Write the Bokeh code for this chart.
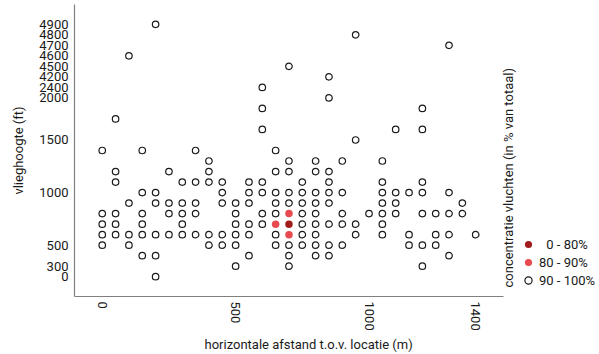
import math
from bokeh.plotting import figure
from bokeh.models import (ColumnDataSource, Range1d, FactorRange, FixedTicker,
                          Legend, LegendItem, Label, LinearAxis, Title)
from bokeh.embed import file_html
from bokeh.resources import INLINE

# --- data -------------------------------------------------------------
# altitude levels (ft) present in the data (ordinal axis, bottom -> top)
y_levels = [0, 300, 400, 500, 600, 700, 800, 900, 1000, 1100, 1200, 1300, 1400,
            1500, 1600, 1700, 1800, 2000, 2400, 4200, 4500, 4600, 4700, 4800, 4900]
y_labelled = [0, 300, 500, 1000, 1500, 2000, 2400, 4200, 4500, 4600, 4700, 4800, 4900]
x_ticks = [0, 500, 1000, 1400]

# 90 - 100 %
hi_x = [200, 950, 1300, 100, 700, 850, 600, 850, 600, 1200, 50, 600, 1100, 1200, 950,
        0, 150, 350, 650,
        400, 700, 800, 900, 1050,
        50, 250, 400, 650, 700, 800, 850,
        50, 300, 350, 400, 450, 550, 600, 750, 850, 1050, 1200,
        150, 200, 450, 550, 600, 650, 700, 750, 800, 850, 900, 1050, 1100, 1150, 1200, 1300,
        100, 200, 250, 300, 350, 450, 500, 550, 650, 700, 750, 800, 850, 1050, 1100, 1350,
        0, 50, 150, 250, 300, 350, 500, 600, 650, 750, 800, 900, 1000, 1050, 1100, 1200, 1250, 1300, 1350,
        0, 50, 150, 300, 500, 550, 600, 750, 800, 850, 900, 950, 1050,
        0, 50, 100, 150, 200, 250, 300, 350, 400, 450, 500, 550, 650, 750, 800, 950, 1050, 1150, 1250, 1300, 1400,
        0, 100, 400, 450, 500, 650, 700, 750, 800, 850, 900, 1150, 1200, 1250,
        150, 200, 550, 700, 800, 850, 1300,
        500, 700, 1200,
        200]
hi_y = [4900, 4800, 4700, 4600, 4500, 4200, 2400, 2000, 1800, 1800, 1700, 1600, 1600, 1600, 1500,
        1400, 1400, 1400, 1400,
        1300, 1300, 1300, 1300, 1300,
        1200, 1200, 1200, 1200, 1200, 1200, 1200,
        1100, 1100, 1100, 1100, 1100, 1100, 1100, 1100, 1100, 1100, 1100,
        1000, 1000, 1000, 1000, 1000, 1000, 1000, 1000, 1000, 1000, 1000, 1000, 1000, 1000, 1000, 1000,
        900, 900, 900, 900, 900, 900, 900, 900, 900, 900, 900, 900, 900, 900, 900, 900,
        800, 800, 800, 800, 800, 800, 800, 800, 800, 800, 800, 800, 800, 800, 800, 800, 800, 800, 800,
        700, 700, 700, 700, 700, 700, 700, 700, 700, 700, 700, 700, 700,
        600, 600, 600, 600, 600, 600, 600, 600, 600, 600, 600, 600, 600, 600, 600, 600, 600, 600, 600, 600, 600,
        500, 500, 500, 500, 500, 500, 500, 500, 500, 500, 500, 500, 500, 500,
        400, 400, 400, 400, 400, 400, 400,
        300, 300, 300,
        0]

# 80 - 90 %
mid_x = [700, 700, 650]
mid_y = [800, 600, 700]

# 0 - 80 %
lo_x = [700]
lo_y = [700]

categories = ["\u20070 - 80%", "80 - 90%", "90 - 100%"]
colors = ["#a01c1c", "#e84a4f", "white"]

# --- figure -----------------------------------------------------------
FONT = "Roboto"
TXT = "#1a1a1a"
X0, X1 = -104, 1505          # extent of the x axis
X_VIEW_END = 1864            # frame extends right to hold the legend

p = figure(width=599, height=354,
           x_range=Range1d(X0, X_VIEW_END),
           y_range=FactorRange(factors=[str(v) for v in y_levels],
                               range_padding=1.38, range_padding_units="absolute"),
           y_axis_type=None,
           output_backend="svg", toolbar_location=None,
           min_border_left=74, min_border_right=0, min_border_top=4, min_border_bottom=58)

p.background_fill_color = "white"
p.border_fill_color = "white"
p.outline_line_color = None
p.grid.visible = False

src_lo = ColumnDataSource(dict(x=lo_x, y=[str(v) for v in lo_y]))
src_mid = ColumnDataSource(dict(x=mid_x, y=[str(v) for v in mid_y]))
src_hi = ColumnDataSource(dict(x=hi_x, y=[str(v) for v in hi_y]))

r_hi = p.scatter("x", "y", source=src_hi, marker="circle", size=6.5,
                 fill_color=colors[2], line_color=TXT, line_width=1.2)
r_mid = p.scatter("x", "y", source=src_mid, marker="circle", size=7.5,
                  fill_color=colors[1], line_color=None)
r_lo = p.scatter("x", "y", source=src_lo, marker="circle", size=7.5,
                 fill_color=colors[0], line_color=None)

# y axis: only selected altitude levels are labelled (factor centres)
y_tick_pos = [y_levels.index(v) + 0.5 for v in y_labelled]
ya = LinearAxis(ticker=FixedTicker(ticks=y_tick_pos),
                major_label_overrides={t: str(v) for t, v in zip(y_tick_pos, y_labelled)},
                axis_label="vlieghoogte (ft)")
p.add_layout(ya, "left")

xa = p.xaxis[0]
xa.ticker = FixedTicker(ticks=x_ticks)
xa.bounds = (X0, X1)
xa.major_label_orientation = -math.pi / 2

for ax in (xa, ya):
    ax.axis_line_color = "#808080"
    ax.axis_line_width = 1.2
    ax.major_tick_line_color = None
    ax.minor_tick_line_color = None
    ax.major_tick_out = 0
    ax.major_tick_in = 0
    ax.minor_tick_out = 0
    ax.major_label_text_font = FONT
    ax.major_label_text_font_size = "13px"
    ax.major_label_text_color = TXT
    ax.major_label_text_line_height = 1.0
    ax.axis_label_text_font = FONT
    ax.axis_label_text_font_size = "13px"
    ax.axis_label_text_font_style = "normal"
    ax.axis_label_text_color = TXT
xa.major_label_standoff = 5
ya.major_label_standoff = 6
ya.axis_label_standoff = 10

# x axis title below the axis
p.add_layout(Title(text="horizontale afstand t.o.v. locatie (m)", align="left",
                   offset=130, standoff=3,
                   text_font=FONT, text_font_size="13px", text_font_style="normal",
                   text_color=TXT), "below")

# legend (inside the widened frame, right of the axis extent)
legend = Legend(items=[LegendItem(label=categories[0], renderers=[r_lo]),
                       LegendItem(label=categories[1], renderers=[r_mid]),
                       LegendItem(label=categories[2], renderers=[r_hi])],
                location=(444, 7), orientation="vertical",
                glyph_width=20, glyph_height=18, label_height=18, spacing=0,
                padding=0, margin=0, label_standoff=1,
                border_line_color=None, background_fill_alpha=0,
                label_text_font=FONT, label_text_font_size="13px",
                label_text_color=TXT)
p.add_layout(legend)

p.add_layout(Label(x=434, y=9, x_units="screen", y_units="screen",
                   text="concentratie vluchten (in % van totaal)", angle=math.pi / 2,
                   text_align="left", text_baseline="middle",
                   text_font=FONT, text_font_size="13px", text_color=TXT))

open("out.html", "w").write(file_html(p, INLINE))
